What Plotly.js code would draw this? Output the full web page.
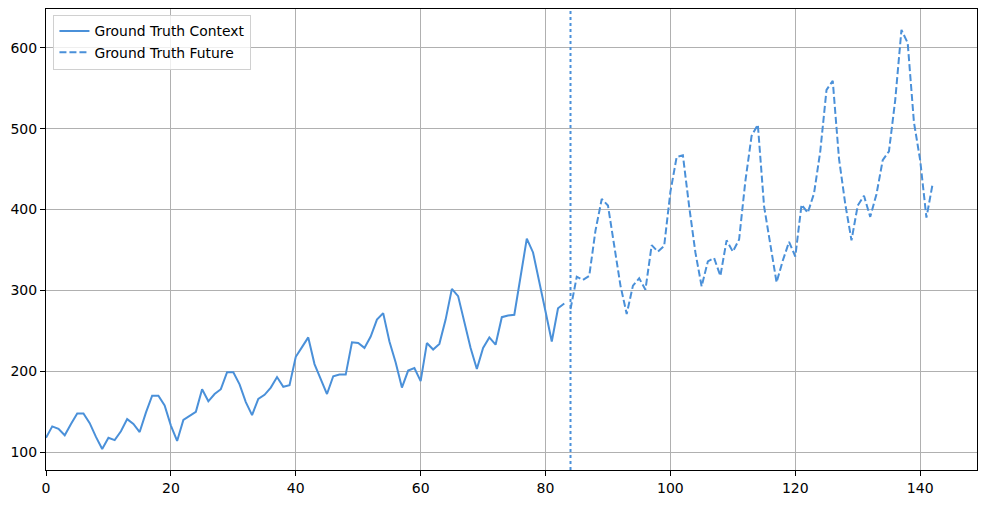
<!DOCTYPE html>
<html><head><meta charset="utf-8">
<script src="https://cdn.plot.ly/plotly-3.0.1.min.js"></script>
<style>body{margin:0;padding:0;background:#fff}#c{width:986px;height:505px}</style>
</head><body><div id="c"></div>
<script>
const contextX = Array.from({length: 84}, (_, i) => i);
const contextY = [118,132,129,121,135,148,148,136,119,104,118,
  115,126,141,135,125,149,170,170,158,133,114,140,
  145,150,178,163,172,178,199,199,184,162,146,166,
  171,180,193,181,183,218,230,242,209,191,172,194,
  196,196,236,235,229,243,264,272,237,211,180,201,
  204,188,235,227,234,264,302,293,259,229,203,229,
  242,233,267,269,270,315,364,347,312,274,237,278,
  284];
const futureX = Array.from({length: 59}, (_, i) => i + 84);
const futureY = [277,317,313,318,374,413,405,355,306,271,306,
  315,301,356,348,355,422,465,467,404,347,305,336,
  340,318,362,348,363,435,491,505,404,359,310,337,
  360,342,406,396,420,472,548,559,463,407,362,405,
  417,391,419,461,472,535,622,606,508,461,390,432];
const splitX = 84;
const col = '#4a90d9';

const traces = [
  {x: contextX, y: contextY, mode: 'lines', name: 'Ground Truth Context',
   line: {color: col, width: 2}},
  {x: futureX, y: futureY, mode: 'lines', name: 'Ground Truth Future',
   line: {color: col, width: 2, dash: '7px,3px'}}
];
const axisCommon = {
  showline: true, mirror: true, linecolor: '#000', linewidth: 1,
  showgrid: true, gridcolor: '#b0b0b0', gridwidth: 1,
  ticks: 'outside', ticklen: 5, tickcolor: '#000', tickwidth: 1,
  zeroline: false,
  tickfont: {family: 'DejaVu Sans', size: 14, color: '#000'}
};
const layout = {
  width: 986, height: 505,
  margin: {l: 46, r: 9, t: 9, b: 35},
  paper_bgcolor: '#fff', plot_bgcolor: '#fff',
  showlegend: true,
  legend: {x: 0.008, y: 0.988, xanchor: 'left', yanchor: 'top',
    bgcolor: 'rgba(255,255,255,0.8)', bordercolor: '#d0d0d0', borderwidth: 1,
    font: {family: 'DejaVu Sans', size: 13.9, color: '#000'},
    tracegroupgap: 0, itemwidth: 30},
  xaxis: Object.assign({}, axisCommon, {range: [0, 149.1], tickvals: [0,20,40,60,80,100,120,140], ticklabelstandoff: 0}),
  yaxis: Object.assign({}, axisCommon, {range: [78.1, 647.9], tickvals: [100,200,300,400,500,600]}),
  shapes: [{type: 'line', xref: 'x', yref: 'paper', x0: splitX, x1: splitX, y0: 0, y1: 1,
    line: {color: col, width: 2, dash: 'dot'}}]
};
Plotly.newPlot('c', traces, layout, {displayModeBar: false});
</script></body></html>
